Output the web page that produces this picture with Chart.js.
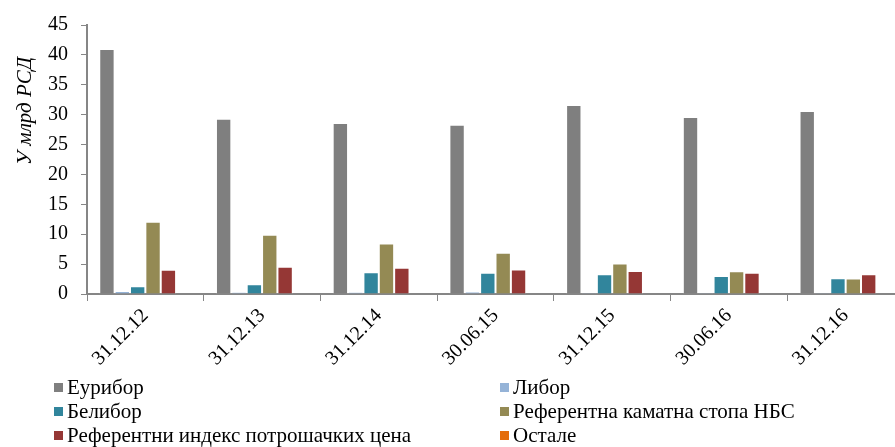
<!DOCTYPE html>
<html>
<head>
<meta charset="utf-8">
<script src="https://cdn.jsdelivr.net/npm/chart.js@4/dist/chart.umd.min.js"></script>
<style>
  html, body { margin: 0; padding: 0; background: #fff; overflow: hidden; }
  #wrap { position: relative; width: 912px; height: 447px; }
  #legend {
    position: absolute; left: 54px; top: 375px; width: 850px;
    font-family: "Liberation Serif", serif; font-size: 21px; color: #000;
    display: grid; grid-template-columns: 446px 400px;
  }
  .item { height: 24px; line-height: 24px; white-space: nowrap; }
  .box { display: inline-block; width: 9px; height: 9px; margin-right: 4px; vertical-align: 2px; }
</style>
</head>
<body>
<div id="wrap">
  <canvas id="chart"></canvas>
  <div id="legend"></div>
</div>
<script>
const categories = ['31.12.12', '31.12.13', '31.12.14', '30.06.15', '31.12.15', '30.06.16', '31.12.16'];

const euribor = [41.0, 29.3, 28.6, 28.3, 31.6, 29.6, 30.6];
const libor = [0.5, 0.3, 0.3, 0.4, 0.2, 0.2, 0.2];
const belibor = [1.3, 1.65, 3.65, 3.55, 3.3, 3.0, 2.65];
const nbsRate = [12.1, 9.9, 8.45, 6.9, 5.1, 3.8, 2.6];
const cpiIndex = [4.05, 4.55, 4.4, 4.1, 3.85, 3.55, 3.3];
const other = [0, 0, 0, 0, 0, 0, 0];

const seriesNames = ['Еурибор', 'Либор', 'Белибор', 'Референтна каматна стопа НБС',
  'Референтни индекс потрошачких цена', 'Остале'];
const seriesColors = ['#7f7f7f', '#95b3d7', '#31859c', '#948a54', '#953735', '#e46c0a'];
const seriesData = [euribor, libor, belibor, nbsRate, cpiIndex, other];

const yTicks = [0, 5, 10, 15, 20, 25, 30, 35, 40, 45];
const yTitle = 'У млрд РСД';

const serif = '"Liberation Serif", serif';
const axisColor = '#868686';

// y axis title sits higher than the axis middle in the original, so draw it by hand
const yTitlePlugin = {
  id: 'yTitle',
  afterDraw: (chart) => {
    const c = chart.ctx;
    c.save();
    c.translate(25, 111);
    c.rotate(-Math.PI / 2);
    c.font = 'italic 21px ' + serif;
    c.fillStyle = '#000';
    c.textAlign = 'center';
    c.textBaseline = 'middle';
    c.fillText(yTitle, 0, 0);
    c.restore();
  }
};

const datasets = seriesNames.map((name, i) => ({
  label: name,
  data: seriesData[i],
  backgroundColor: seriesColors[i],
  borderColor: 'rgba(255,255,255,0.45)',
  borderWidth: 1,
  borderSkipped: 'bottom',
  barPercentage: 1,
  categoryPercentage: 0.79
}));

const ctx = document.querySelector('#chart').getContext('2d');
const chart = new Chart(ctx, {
  type: 'bar',
  data: { labels: categories, datasets: datasets },
  plugins: [yTitlePlugin],
  options: {
    responsive: true,
    maintainAspectRatio: false,
    animation: false,
    layout: { padding: { top: 22, right: 8, left: 0, bottom: 0 } },
    plugins: { legend: { display: false }, tooltip: { enabled: false } },
    scales: {
      x: {
        grid: { display: true, drawOnChartArea: false, drawTicks: true, tickLength: 7, color: axisColor, offset: true },
        border: { color: axisColor, width: 2 },
        ticks: {
          minRotation: 45, maxRotation: 45, padding: 3,
          color: '#000', font: { family: serif, size: 20 }
        },
        afterFit: (scale) => { scale.height = 153; }
      },
      y: {
        min: 0, max: 45,
        afterBuildTicks: (scale) => { scale.ticks = yTicks.map(v => ({ value: v })); },
        grid: { display: true, drawOnChartArea: false, drawTicks: true, tickLength: 6, color: axisColor },
        border: { color: axisColor, width: 2 },
        ticks: { padding: 13, color: '#000', font: { family: serif, size: 20 } },
        afterFit: (scale) => { scale.width = 87; }
      }
    }
  }
});

const legend = document.querySelector('#legend');
chart.data.datasets.forEach((ds) => {
  const item = document.createElement('div');
  item.className = 'item';
  const box = document.createElement('span');
  box.className = 'box';
  box.style.background = ds.backgroundColor;
  item.appendChild(box);
  item.appendChild(document.createTextNode(ds.label));
  legend.appendChild(item);
});
</script>
</body>
</html>
